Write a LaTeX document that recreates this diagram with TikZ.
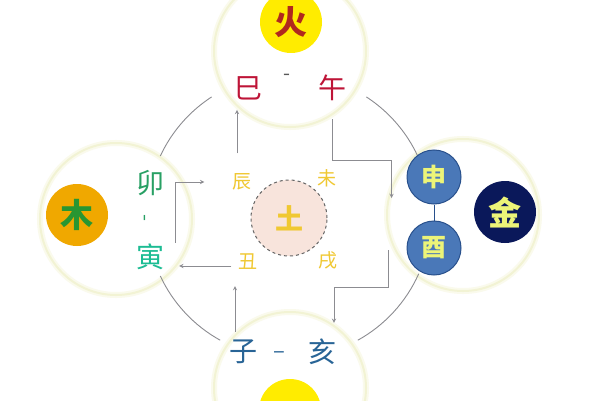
\documentclass[tikz,border=0pt]{standalone}
\usepackage{fontspec}
\setmainfont{Noto Sans CJK SC}
\definecolor{haloOut}{RGB}{250,250,236}
\definecolor{haloIn}{RGB}{242,243,212}
\definecolor{ringGray}{RGB}{140,140,145}
\definecolor{huoYellow}{RGB}{255,236,0}
\definecolor{huoRed}{RGB}{176,40,30}
\definecolor{siRed}{RGB}{190,20,55}
\definecolor{maoGreen}{RGB}{40,160,100}
\definecolor{muOrange}{RGB}{240,168,0}
\definecolor{muGreen}{RGB}{40,150,50}
\definecolor{shenBlue}{RGB}{74,120,184}
\definecolor{shenEdge}{RGB}{40,80,140}
\definecolor{jinNavy}{RGB}{10,24,90}
\definecolor{paleText}{RGB}{236,244,120}
\definecolor{ziBlue}{RGB}{40,100,150}
\definecolor{tuYellow}{RGB}{240,200,50}
\definecolor{tuPink}{RGB}{248,228,220}
\begin{document}
\begin{tikzpicture}[x=1pt,y=1pt,
  zhi/.style={inner sep=2pt, font=\fontsize{28}{28}\selectfont},
  earth/.style={inner sep=2pt, text=tuYellow, font=\fontsize{19}{19}\selectfont},
  elem/.style={circle, inner sep=0pt, minimum size=62pt, font=\bfseries\fontsize{33}{33}\selectfont},
  gan/.style={circle, inner sep=0pt, minimum size=54pt, fill=shenBlue, draw=shenEdge, line width=1pt,
    text=paleText, font=\bfseries\fontsize{25}{25}\selectfont},
  arr/.style={-stealth, draw=ringGray, line width=0.9pt}]
	\useasboundingbox (0,0) rectangle (600,400);
	\clip (0,0) rectangle (600,400);
	\fill[white] (0,0) rectangle (600,400);
	% pale season circles
	\foreach \p in {(290,349),(116,181),(463,185),(290,12)} {
		\draw[haloOut, line width=6pt, fill=white] \p circle (76pt);
		\draw[haloIn, line width=2pt] \p circle (76pt);
	}
	% big ring, in four arcs
	\coordinate (C) at (289,184);
	\draw[ringGray, line width=0.9pt] (C) ++(25:142) arc[start angle=25, end angle=57, radius=142pt];
	\draw[ringGray, line width=0.9pt] (C) ++(123:142) arc[start angle=123, end angle=155, radius=142pt];
	\draw[ringGray, line width=0.9pt] (C) ++(205:142) arc[start angle=205, end angle=241, radius=142pt];
	\draw[ringGray, line width=0.9pt] (C) ++(299:142) arc[start angle=299, end angle=336, radius=142pt];
	% elements
	\node[elem, fill=huoYellow, text=huoRed] (huo) at (291,378) {火};
	\node[elem, fill=muOrange, text=muGreen] (mu) at (77,185) {木};
	\node[elem, fill=jinNavy, text=paleText] (jin) at (505,188) {金};
	\node[elem, fill=huoYellow] (shui) at (290,-10) {};
	\node[circle, minimum size=76pt, fill=tuPink, draw=gray!80!black, dashed, line width=1pt,
		text=tuYellow, font=\bfseries\fontsize{28}{28}\selectfont] (tu) at (289,182) {土};
	% branches
	\node[zhi, text=siRed] (si) at (248,312) {巳};
	\node[zhi, text=siRed] (wu) at (332,312) {午};
	\node[text=gray!70!black, font=\fontsize{20}{20}\selectfont] (siwu) at (287,323) {-};
	\node[zhi, text=maoGreen] (mao) at (150,217) {卯};
	\node[zhi, text=maoGreen!70!cyan] (yin) at (150,143) {寅};
	\node[text=maoGreen, rotate=90, font=\fontsize{20}{20}\selectfont] (maoyin) at (147,182) {-};
	\node[gan] (shen) at (434,223) {申};
	\node[gan] (you) at (434,152) {酉};
	\draw[shenEdge, line width=1pt] (shen) -- (you);
	\node[zhi, text=ziBlue] (zi) at (243,48) {子};
	\node[zhi, text=ziBlue] (hai) at (322,48) {亥};
	\node[text=ziBlue, font=\fontsize{22}{22}\selectfont] (zihai) at (279,45) {–};
	\node[earth] (chen) at (242,218) {辰};
	\node[earth] (wei) at (327,222) {未};
	\node[earth] (chou) at (248,138) {丑};
	\node[earth] (xu) at (328,140) {戌};
	% arrows
	\draw[arr] ([xshift=25pt,yshift=-1pt]yin.north) |- ([xshift=-26pt]chen.west);
	\draw[arr] ([xshift=-5pt,yshift=18pt]chen.north) -- ([xshift=-11pt,yshift=-8pt]si.south);
	\draw[arr] ([yshift=-16pt]wu.south) |- ([xshift=-15pt,yshift=17pt]shen.west)
		-- ([xshift=-15pt,yshift=-21pt]shen.west);
	\draw[arr] ([xshift=-18pt,yshift=-2pt]you.west) |- ([xshift=12pt,yshift=49pt]hai.north)
		-- ([xshift=12pt,yshift=14pt]hai.north);
	\draw[arr] ([xshift=-8pt,yshift=6pt]zi.north) -- ([xshift=-13pt,yshift=-14pt]chou.south);
	\draw[arr] ([xshift=-5pt,yshift=-4pt]chou.west) -- ([xshift=13pt,yshift=-9pt]yin.east);
\end{tikzpicture}
\end{document}
